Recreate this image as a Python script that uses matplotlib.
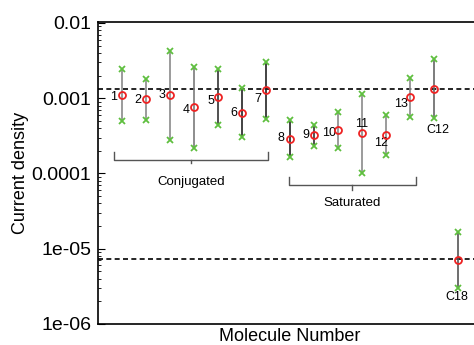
import numpy as np
import matplotlib.pyplot as plt
from matplotlib.ticker import FixedLocator, FixedFormatter, LogLocator, NullFormatter

plt.rcParams['font.family'] = ['Liberation Sans', 'DejaVu Sans']

## data
names = ['1', '2', '3', '4', '5', '6', '7', '8', '9', '10', '11', '12', '13', 'C12', 'C18']
mid = [1.11e-3, 9.8e-4, 1.09e-3, 7.55e-4, 1.04e-3, 6.35e-4, 1.27e-3,
       2.89e-4, 3.2e-4, 3.77e-4, 3.4e-4, 3.27e-4, 1.05e-3, 1.34e-3, 7.05e-6]
upper = [2.44e-3, 1.82e-3, 4.28e-3, 2.6e-3, 2.47e-3, 1.37e-3, 3.05e-3,
         5.07e-4, 4.4e-4, 6.61e-4, 1.14e-3, 6.04e-4, 1.86e-3, 3.32e-3, 1.66e-5]
lower = [5.02e-4, 5.18e-4, 2.81e-4, 2.18e-4, 4.35e-4, 3.01e-4, 5.34e-4,
         1.67e-4, 2.31e-4, 2.2e-4, 1.01e-4, 1.76e-4, 5.68e-4, 5.46e-4, 2.99e-6]
ref_levels = [1.34e-3, 7.34e-6]
ytick_vals = [1e-6, 1e-5, 1e-4, 1e-3, 1e-2]
ytick_labels = ['1e-06', '1e-05', '0.0001', '0.001', '0.01']

# label offsets in pixels relative to the point
lab_off = [(-8, -2), (-8, -1), (-8, 0), (-8, -3), (-7, -4), (-8, 0), (-8, -9),
           (-9, 1), (-8, 0), (-9, -3), (0, 9), (-5, -8), (-9, -7), (4, -41), (-1, -37)]
bar_col = ['#8a8a8a', '#8a8a8a', '#8a8a8a', '#7a7a7a', '#333333', '#222222', '#222222',
           '#222222', '#333333', '#8a8a8a', '#8a8a8a', '#8a8a8a', '#8a8a8a', '#666666', '#555555']

x = np.arange(1, len(names) + 1)

fig = plt.figure(figsize=(4.74, 3.45), dpi=100)
ax = fig.add_axes([98/474, 21/345, 384/474, 302/345])

for lv in ref_levels:
    ax.axhline(lv, color='black', ls=(0, (3, 2)), lw=1.2, zorder=1)

for i in range(len(x)):
    ax.plot([x[i], x[i]], [lower[i], upper[i]], color=bar_col[i], lw=1.2, zorder=2)
ax.plot(x, upper, 'x', color='#5fbf3f', ms=4, mew=1.3, zorder=3)
ax.plot(x, lower, 'x', color='#5fbf3f', ms=4, mew=1.3, zorder=3)
ax.plot(x, mid, 'o', mfc='none', mec='#ee2222', ms=5, mew=1.3, zorder=4)

for i in range(len(x)):
    ax.annotate(names[i], (x[i], mid[i]), xytext=lab_off[i], textcoords='offset pixels',
                ha='center', va='center', fontsize=9)

def brace(x0, x1, ytop, ybot, ytip, label, ylab):
    xc = (x0 + x1)/2
    c = '#555555'
    ax.plot([x0, x0, x1, x1], [ytop, ybot, ybot, ytop], color=c, lw=1)
    ax.plot([xc, xc], [ybot, ytip], color=c, lw=1)
    ax.text(xc, ylab, label, ha='center', va='center', fontsize=9.5)

brace(0.67, 7.08, 1.95e-4, 1.52e-4, 1.39e-4, 'Conjugated', 7.8e-5)
brace(7.96, 13.24, 9.1e-5, 7.0e-5, 6.1e-5, 'Saturated', 4.1e-5)

ax.set_yscale('log')
ax.set_xlim(0, 16)
ax.set_ylim(1e-6, 1.03e-2)
ax.yaxis.set_major_locator(FixedLocator(ytick_vals))
ax.yaxis.set_major_formatter(FixedFormatter(ytick_labels))
ax.yaxis.set_minor_locator(LogLocator(base=10, subs=np.arange(2, 10)))
ax.yaxis.set_minor_formatter(NullFormatter())
ax.tick_params(axis='y', which='major', direction='in', length=5, labelsize=14, pad=5)
ax.tick_params(axis='y', which='minor', direction='in', length=2.5)
ax.set_xticks([])
ax.set_xlabel('Molecule Number', fontsize=13, labelpad=3)
ax.set_ylabel('Current density', fontsize=13, labelpad=2)
for s in ax.spines.values():
    s.set_linewidth(1.2)

fig.savefig('out.png', dpi=100)
